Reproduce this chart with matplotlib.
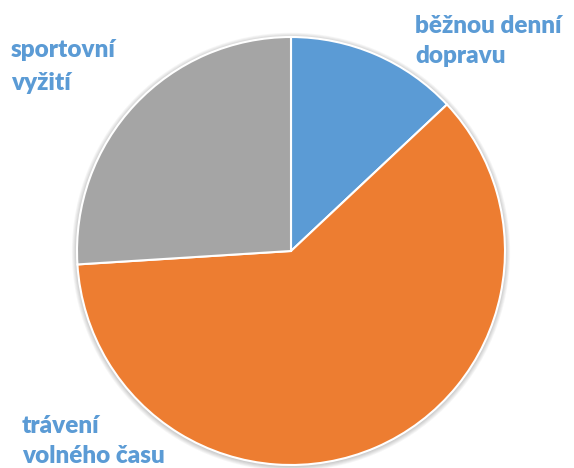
import matplotlib
matplotlib.use("Agg")
import matplotlib.pyplot as plt
from matplotlib.patches import Circle

# --- DATA ---
categories = ["běžnou denní dopravu", "trávení volného času", "sportovní vyžití"]
shares = [13, 61, 26]
colors = ["#5B9BD5", "#ED7D31", "#A5A5A5"]
label_color = "#5B9BD5"

# --- FIGURE ---
fig = plt.figure(figsize=(5.74, 4.68), dpi=100)
cx, cy, r = 291, 251, 214
ax = fig.add_axes([(cx - r) / 574, (468 - cy - r) / 468, 2 * r / 574, 2 * r / 468])

# soft shadow around the pie
for i in range(6, 0, -1):
    ax.add_patch(Circle((0.0, -0.004), 1.0 + i * 0.004, facecolor="black",
                        edgecolor="none", alpha=0.035, zorder=0, clip_on=False))

ax.pie(shares, colors=colors, startangle=90, counterclock=False,
       radius=1.0, wedgeprops=dict(edgecolor="white", linewidth=1.5, zorder=2))
ax.set_xlim(-1, 1)
ax.set_ylim(-1, 1)
ax.set_aspect("equal")
ax.axis("off")

# --- LABELS ---
font = dict(family=["Lato", "DejaVu Sans"], fontweight="heavy",
            fontsize=17.5, color=label_color, ha="left", va="baseline")
fig.text(415 / 574, 1 - 33 / 468, "běžnou denní", **font)
fig.text(415 / 574, 1 - 63 / 468, "dopravu", **font)
fig.text(11 / 574, 1 - 57 / 468, "sportovní", **font)
fig.text(11 / 574, 1 - 90 / 468, "vyžití", **font)
fig.text(22 / 574, 1 - 433 / 468, "trávení", **font)
fig.text(22 / 574, 1 - 463 / 468, "volného času", **font)

fig.savefig("out.png", dpi=100)
